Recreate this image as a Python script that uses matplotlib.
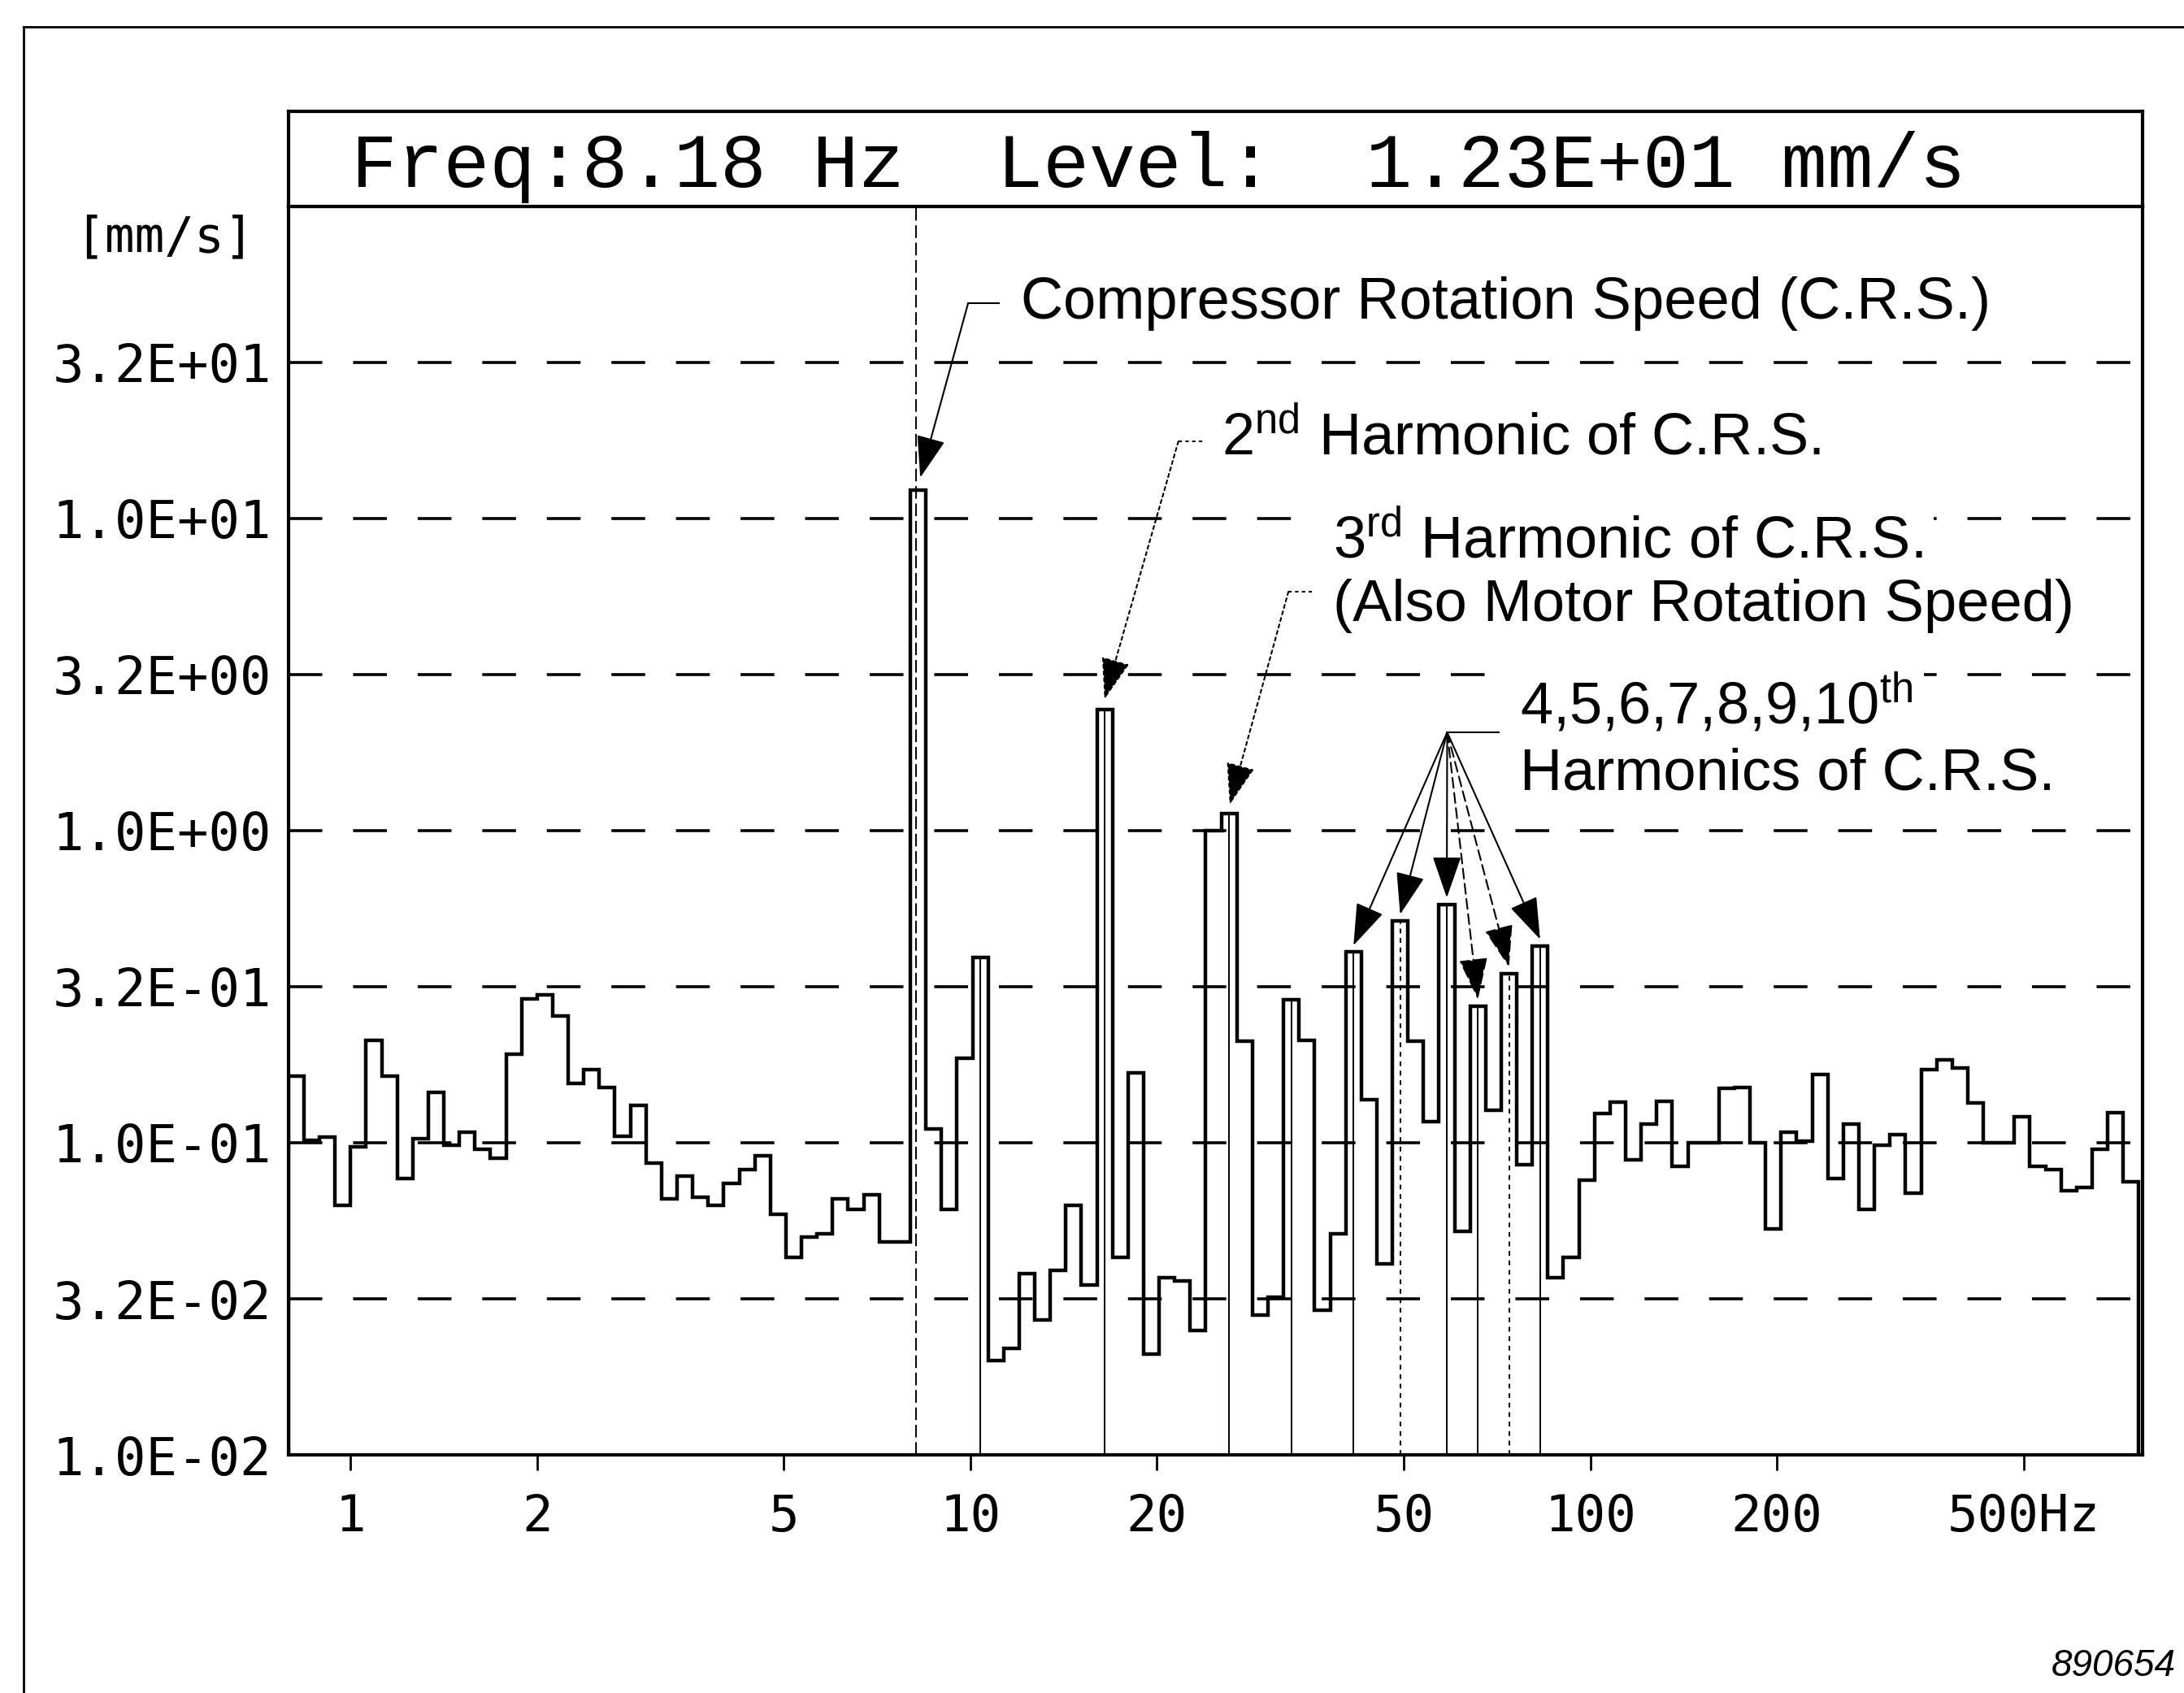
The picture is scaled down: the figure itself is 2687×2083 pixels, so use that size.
import numpy as np
import matplotlib.pyplot as plt
from matplotlib.lines import Line2D
from matplotlib.ticker import FixedLocator, NullLocator

plt.rcParams['font.family'] = ['DejaVu Sans Mono']
plt.rcParams['mathtext.fontset'] = 'custom'
plt.rcParams['mathtext.rm'] = 'Liberation Sans'
plt.rcParams['mathtext.it'] = 'Liberation Sans:italic'

# 1/12 octave band levels [mm/s]; band k spans 2**(k/12) .. 2**((k+1)/12) Hz
band_first = -4
levels_low = [0.163, 0.102, 0.104, 0.063, 0.097, 0.213, 0.163, 0.077, 0.103, 0.145,
              0.098, 0.108, 0.095, 0.089, 0.192, 0.288, 0.298, 0.255, 0.155, 0.171,
              0.150, 0.105, 0.132, 0.086, 0.066, 0.078, 0.067, 0.063, 0.074, 0.082,
              0.091, 0.059, 0.043, 0.050, 0.051, 0.066, 0.061, 0.068, 0.048, 0.048]
levels_mid = [12.3, 0.111, 0.061, 0.186, 0.393, 0.020, 0.022, 0.038, 0.027, 0.039,
              0.063, 0.035, 2.44, 0.043, 0.167, 0.021, 0.037, 0.036, 0.025, 1.00,
              1.13, 0.211, 0.028, 0.032, 0.287, 0.213, 0.029, 0.051, 0.408, 0.137,
              0.041, 0.513, 0.211, 0.117, 0.580, 0.052, 0.274, 0.127, 0.348, 0.085,
              0.427, 0.037]
levels_high = [0.043, 0.076, 0.124, 0.135, 0.088, 0.115, 0.136, 0.084, 0.100, 0.100,
               0.149, 0.150, 0.100, 0.053, 0.108, 0.101, 0.165, 0.077, 0.115, 0.061,
               0.098, 0.106, 0.069, 0.171, 0.184, 0.174, 0.134, 0.100, 0.100, 0.121,
               0.084, 0.082, 0.070, 0.072, 0.095, 0.125, 0.075]

cursor_freq = 8.18
cursor_level = 12.3
peak_bands = [40, 48, 56, 60, 64, 67, 70, 72, 74, 76]
dotted_peaks = [67, 74]
harmonic_bands = [64, 67, 70, 72, 74, 76]
dashed_arrows = [72, 74]

ytick_vals = [0.01, 10**-1.5, 0.1, 10**-0.5, 1, 10**0.5, 10, 10**1.5]
ytick_labels = ['1.0E-02', '3.2E-02', '1.0E-01', '3.2E-01',
                '1.0E+00', '3.2E+00', '1.0E+01', '3.2E+01']
xtick_vals = [1, 2, 5, 10, 20, 50, 100, 200, 500]
xtick_labels = ['1', '2', '5', '10', '20', '50', '100', '200', '500Hz']

levels = np.array(levels_low + levels_mid + levels_high)
kk = np.arange(band_first, band_first + len(levels) + 1)
edges = 2.0 ** (kk / 12)


def band_center(k):
    return 2.0 ** ((k + 0.5) / 12)


def band_level(k):
    return levels[k - band_first]


W, H = 1568, 1216  # layout measured on the shrunk picture


def fx(x):
    return x / W


def fy(y):
    return 1 - y / H


fig = plt.figure(figsize=(26.87, 20.83), dpi=100)

ax = fig.add_axes([fx(207), fy(1045), fx(1538) - fx(207), fy(148) - fy(1045)])
ax.set_xscale('log')
ax.set_yscale('log')
ax.set_xlim(edges[0], 777)
ax.set_ylim(0.01, 100)

for v in ytick_vals[1:]:
    ax.axhline(v, color='black', lw=2.6, linestyle=(0, (11.5, 10.5)), zorder=1)

ax.stairs(levels, edges, baseline=0.01, color='black', lw=3.2, zorder=3)

for k in peak_bands:
    ls = (0, (3, 3)) if k in dotted_peaks else '-'
    ax.vlines(band_center(k), 0.01, band_level(k), colors='black', lw=1.4,
              linestyles=[ls], zorder=2)
ax.vlines(cursor_freq, 0.01, 100, colors='black', lw=1.4,
          linestyles=[(0, (8, 3))], zorder=2)

ax.yaxis.set_major_locator(FixedLocator(ytick_vals))
ax.yaxis.set_minor_locator(NullLocator())
ax.set_yticklabels(ytick_labels)
ax.xaxis.set_major_locator(FixedLocator(xtick_vals))
ax.xaxis.set_minor_locator(NullLocator())
ax.set_xticklabels(xtick_labels)
ax.tick_params(axis='y', length=0, pad=15, labelsize=46)
ax.tick_params(axis='x', length=14, width=2, direction='out', pad=20, labelsize=45)
for s in ax.spines.values():
    s.set_linewidth(3)

# header box with cursor readout
hdr = fig.add_axes([fx(207), fy(148), fx(1538) - fx(207), fy(80) - fy(148)])
hdr.set_xticks([])
hdr.set_yticks([])
for s in hdr.spines.values():
    s.set_linewidth(3)
hdr.text(0.0338, 0.206, f'Freq:{cursor_freq:.2f} Hz  Level:  {cursor_level:.2E} mm/s',
         family='Liberation Mono', fontsize=68, va='baseline', ha='left')

fig.text(fx(118), fy(171), '[mm/s]', ha='center', va='center', fontsize=44)

# annotations
sans = 'Liberation Sans'
tsize = 52
fig.text(fx(733), fy(229), 'Compressor Rotation Speed (C.R.S.)', family=sans,
         fontsize=tsize, va='baseline')
fig.text(fx(877), fy(327), '2$^{\\mathrm{nd}}$ Harmonic of C.R.S.', family=sans,
         fontsize=tsize, va='baseline')
fig.text(fx(957), fy(401), '3$^{\\mathrm{rd}}$ Harmonic of C.R.S.', family=sans,
         fontsize=tsize, va='baseline',
         bbox=dict(facecolor='white', edgecolor='none', pad=10))
fig.text(fx(957), fy(446), '(Also Motor Rotation Speed)', family=sans,
         fontsize=tsize, va='baseline')
fig.text(fx(1091), fy(520), '4,5,6,7,8,9,10$^{\\mathrm{th}}$', family=sans,
         fontsize=tsize, va='baseline',
         bbox=dict(facecolor='white', edgecolor='none', pad=10))
fig.text(fx(1091), fy(567), 'Harmonics of C.R.S.', family=sans,
         fontsize=tsize, va='baseline')


def hook(x0, x1, y, ls='-'):
    fig.add_artist(Line2D([fx(x0), fx(x1)], [fy(y), fy(y)], transform=fig.transFigure,
                          color='black', lw=1.5, linestyle=ls))


def arrow(xy, x0, y0, ls='-'):
    ax.annotate('', xy=xy, xycoords='data', xytext=(fx(x0), fy(y0)),
                textcoords='figure fraction', annotation_clip=False,
                arrowprops=dict(arrowstyle='-|>,head_length=1.3,head_width=0.45',
                                mutation_scale=25, color='black', lw=1.5,
                                linestyle=ls, shrinkA=0, shrinkB=0))


hook(695, 717, 218)
arrow((8.3, 13.5), 695, 218)
hook(846, 865, 317, (0, (2, 2)))
arrow((16.45, 2.63), 846, 317, (0, (2, 2)))
hook(925, 942, 425, (0, (2, 2)))
arrow((26.2, 1.21), 925, 425, (0, (2, 2)))
hook(1039, 1076, 526)
for k in harmonic_bands:
    ls = (0, (6, 3)) if k in dashed_arrows else '-'
    arrow((band_center(k), band_level(k) * 1.05), 1039, 526, ls)

# outer frame of the page
fig.add_artist(Line2D([fx(17), fx(17)], [0, fy(19)], transform=fig.transFigure,
                      color='black', lw=2))
fig.add_artist(Line2D([fx(17), 1], [fy(19), fy(19)], transform=fig.transFigure,
                      color='black', lw=2))

fig.text(fx(1562), fy(1197), '890654', ha='right', va='center', family=sans,
         style='italic', fontsize=33)

fig.savefig('out.png', dpi=100)
